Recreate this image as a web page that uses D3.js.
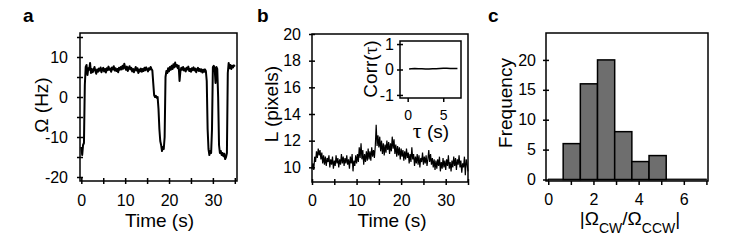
<!DOCTYPE html>
<html><head><meta charset="utf-8">
<script src="https://cdn.jsdelivr.net/npm/d3@7"></script>
<style>body{margin:0;background:#fff}svg{display:block}text{font-family:Arial,"Liberation Sans",sans-serif;fill:#000}</style>
</head><body><svg id="c" width="749" height="247"></svg>
<script>
// Panel a: rotation speed Omega (Hz), sampled every 0.2 s from t = 0
const omegaStart = 0, omegaStep = 0.2;
const omegaValues = [
-12.5,-14.5,-12,-11.5,3,7.5,8,5.5,7.2,6.8,8.5,6,7,6.2,6.8,7.5,6.5,5.8,6.9,6.3,
7.1,6.6,7.4,6.2,6.9,7.3,6.4,7.0,6.1,7.2,6.7,7.6,6.8,7.1,6.3,7.4,6.9,7.7,6.6,7.2,
6.5,7.0,6.2,7.3,6.8,7.5,6.9,7.8,7.1,8.3,7.4,6.8,7.6,6.5,7.2,7.7,6.9,7.3,6.4,7.0,
6.2,6.8,7.5,6.6,7.2,6.0,6.9,6.4,7.1,6.3,7.0,6.5,7.3,6.7,7.4,6.9,6.4,7.2,6.8,7.5,
7.0,6.6,3.5,0.5,0,0.3,-0.2,0,-3,-8,-11,-12,-13.5,-12.5,-13,-10,5,6.5,6,7.2,
6.4,7.5,6.8,7.8,7.0,8.2,7.4,8.6,7.6,8.0,7.2,7.8,4.0,6.5,7.3,6.8,7.5,6.6,7.1,6.4,
7.3,6.9,7.6,6.5,7.0,6.3,7.2,6.7,7.4,6.6,7.1,6.2,6.9,7.3,6.5,7.0,6.4,6.9,6.1,6.8,
6.3,6.9,6.5,4,-8,-13,-14.5,-13.5,-14,-8,7.5,7.8,7.2,3.5,7.5,7.0,0,-12,-14,-13.5,
-14.5,-14,-14.8,-14.2,-15.5,-15,-14,6,8.5,7.2,8.0,7.0,7.8,7.4,7.9,7.6
];
const omegaTicks = [-20,-10,0,10];
const omegaMinorTicks = [-15,-5,5,15];
const timeTicks = [0,10,20,30];
const timeMinorTicks = [5,15,25,35];

// Panel b: length L (pixels), sampled every 0.2 s from t = 0
const lenStart = 0, lenStep = 0.2;
const lenValues = [
9.9,10.3,9.8,10.8,10.4,11.2,10.7,11.4,10.9,11.3,10.6,11.1,10.3,10.9,10.2,10.8,10.1,10.7,10.4,10.9,
10.0,10.6,10.2,10.8,9.9,10.5,10.1,10.9,10.3,10.7,10.0,10.6,10.2,11.0,10.3,10.8,10.1,10.7,10.3,10.9,
10.2,10.6,9.9,10.8,10.3,11.0,9.7,10.5,10.1,10.9,10.3,11.0,10.4,11.5,10.7,11.8,10.6,11.3,10.2,11.0,
10.4,11.2,10.5,11.4,10.6,11.2,10.5,11.5,10.8,11.3,10.7,11.6,13.2,11.6,12.4,11.5,12.3,11.2,12.0,11.0,
11.8,10.9,11.7,11.1,12.0,11.3,11.9,11.0,11.8,11.2,12.3,11.4,12.1,11.0,11.7,10.8,11.6,10.9,11.5,10.6,
11.4,10.8,11.3,10.5,11.2,10.6,11.4,10.7,11.1,10.3,11.0,10.4,11.5,10.6,11.0,10.1,10.8,10.3,11.0,10.2,
10.9,10.0,10.7,10.4,11.1,10.2,10.8,10.3,10.9,10.1,10.6,11.3,10.4,11.0,10.2,10.7,10.0,10.6,9.8,10.5,
9.9,10.6,10.1,10.8,9.7,10.4,9.9,10.7,10.0,10.5,9.8,10.6,10.1,10.9,9.9,10.4,9.7,10.5,10.0,10.8,
10.1,10.7,9.8,10.6,10.2,10.9,10.0,10.5,9.6,10.3,10.0,10.8,9.4,10.6,10.2,9.7
];
const lenTicks = [10,12,14,16,18,20];

// Inset: autocorrelation
const tau = [0.2,0.5,1,1.5,2,2.5,3,3.5,4,4.5,5,5.5,6,6.5,7];
const corr = [0.02,0.03,0.04,0.03,0.03,0.02,0.02,0.03,0.03,0.04,0.05,0.05,0.04,0.04,0.04];
const corrTicks = [-1,0,1];
const tauTicks = [0,5];

// Panel c: histogram of |Omega_CW / Omega_CCW|
const binEdges = [0.66,1.42,2.18,2.94,3.70,4.46,5.22];
const binCounts = [6,16,20,8,3,4];
const freqTicks = [0,5,10,15,20];
const ratioTicks = [0,2,4,6];
const ratioMinorTicks = [1,3,5,7];

const svg = d3.select("#c");
const FS = 16, TFS = 19;

function frame(x0,x1,y0,y1,sw){
  svg.append("rect").attr("x",x0).attr("y",y0).attr("width",x1-x0).attr("height",y1-y0)
    .attr("fill","none").attr("stroke","#000").attr("stroke-width",sw||1.5);
}
function yAxis(scale, x, ticks, minor, pad, fs){
  const g = svg.append("g").attr("transform",`translate(${x},0)`);
  g.call(d3.axisLeft(scale).tickValues(ticks).tickSize(3).tickPadding(pad).tickFormat(d=>d));
  if(minor){
    const m = svg.append("g").attr("transform",`translate(${x},0)`);
    m.call(d3.axisLeft(scale).tickValues(minor).tickSize(3).tickFormat(""));
    m.select(".domain").remove();
    m.selectAll("line").attr("x2",-3).attr("x1",3).attr("stroke-width",1.5);
  }
  g.select(".domain").remove();
  g.selectAll("line").attr("x2",-3).attr("x1",3).attr("stroke-width",1.5);
  g.selectAll("text").attr("font-size",fs||FS).attr("font-family","Arial, 'Liberation Sans', sans-serif");
  return g;
}
function xAxis(scale, y, ticks, minor, pad, fs, cross){
  const g = svg.append("g").attr("transform",`translate(0,${y})`);
  g.call(d3.axisBottom(scale).tickValues(ticks).tickSize(cross?3:4).tickPadding(pad).tickFormat(d=>d));
  g.select(".domain").remove();
  g.selectAll("line").attr("y1",cross?-3:0).attr("stroke-width",1.5);
  if(minor){
    const m = svg.append("g").attr("transform",`translate(0,${y})`);
    m.call(d3.axisBottom(scale).tickValues(minor).tickSize(cross?3:4).tickFormat(""));
    m.select(".domain").remove();
    m.selectAll("line").attr("y1",cross?-3:0).attr("stroke-width",1.5);
  }
  g.selectAll("text").attr("font-size",fs||FS).attr("font-family","Arial, 'Liberation Sans', sans-serif");
  return g;
}
function panelLabel(t,x,y){
  svg.append("text").attr("x",x).attr("y",y).attr("font-size",19).attr("font-weight","bold").text(t);
}

// ---------- Panel a ----------
{
  const x = d3.scaleLinear().domain([-0.3,35.5]).range([80,237]);
  const y = d3.scaleLinear().domain([-21,16]).range([181,33]);
  const pts = omegaValues.map((v,i)=>[omegaStart+i*omegaStep, v]);
  svg.append("path").datum(pts).attr("fill","none").attr("stroke","#000").attr("stroke-width",2)
    .attr("stroke-linejoin","round")
    .attr("d", d3.line().x(d=>x(d[0])).y(d=>y(d[1])));
  frame(80,237,33,181);
  yAxis(y,80,omegaTicks,omegaMinorTicks,9);
  xAxis(x,181,timeTicks,timeMinorTicks,11,FS,true);
  svg.append("text").attr("x",159.5).attr("y",227).attr("text-anchor","middle").attr("font-size",TFS).text("Time (s)");
  svg.append("text").attr("transform","translate(48,105) rotate(-90)").attr("text-anchor","middle")
    .attr("font-size",TFS).text("Ω (Hz)");
  panelLabel("a",23,22);
}

// ---------- Panel b ----------
{
  const x = d3.scaleLinear().domain([0,35]).range([312,468]);
  const y = d3.scaleLinear().domain([8.9,20]).range([182,34]);
  const pts = lenValues.map((v,i)=>[lenStart+i*lenStep, v]);
  svg.append("path").datum(pts).attr("fill","none").attr("stroke","#000").attr("stroke-width",1.2)
    .attr("d", d3.line().x(d=>x(d[0])).y(d=>y(d[1])));
  frame(312,468,34,182);
  yAxis(y,312,lenTicks,null,8);
  xAxis(x,182,timeTicks,timeMinorTicks,10,FS,true);
  svg.append("text").attr("x",392).attr("y",227).attr("text-anchor","middle").attr("font-size",TFS).text("Time (s)");
  svg.append("text").attr("transform","translate(278,104) rotate(-90)").attr("text-anchor","middle")
    .attr("font-size",TFS).text("L (pixels)");
  panelLabel("b",257,22);

  // inset
  const ix = d3.scaleLinear().domain([-1.08,7.5]).range([400,461]);
  const iy = d3.scaleLinear().domain([-1.12,1.12]).range([98,41]);
  svg.append("rect").attr("x",400).attr("y",41).attr("width",61).attr("height",57).attr("fill","#fff");
  svg.append("path").datum(tau.map((t,i)=>[t,corr[i]])).attr("fill","none").attr("stroke","#000").attr("stroke-width",1.5)
    .attr("d", d3.line().x(d=>ix(d[0])).y(d=>iy(d[1])));
  frame(400,461,41,98);
  yAxis(iy,400,corrTicks,null,3);
  xAxis(ix,98,tauTicks,null,8,14,false);
  svg.append("text").attr("transform","translate(377,69) rotate(-90)").attr("text-anchor","middle")
    .attr("font-size",TFS).html('Corr(<tspan font-family="Liberation Serif, Times New Roman, serif">τ</tspan>)');
  svg.append("text").attr("x",431).attr("y",138).attr("text-anchor","middle")
    .attr("font-size",TFS).html('<tspan font-family="Liberation Serif, Times New Roman, serif" font-size="22">τ</tspan> (s)');
}

// ---------- Panel c ----------
{
  const x = d3.scaleLinear().domain([-0.1,7.07]).range([546,708]);
  const y = d3.scaleLinear().domain([-0.25,24.5]).range([181,33]);
  svg.append("rect").attr("x",x(0)).attr("y",y(0)-0.5).attr("width",x(7)-x(0)).attr("height",1)
    .attr("fill","#6e6e6e").attr("stroke","#000").attr("stroke-width",0.8);
  svg.selectAll(".bar").data(binCounts).enter().append("rect")
    .attr("x",(d,i)=>x(binEdges[i])).attr("width",(d,i)=>x(binEdges[i+1])-x(binEdges[i]))
    .attr("y",d=>y(d)).attr("height",d=>y(0)-y(d))
    .attr("fill","#6e6e6e").attr("stroke","#000").attr("stroke-width",1.5);
  frame(546,708,33,181);
  yAxis(y,546,freqTicks,null,7);
  xAxis(x,181,ratioTicks,ratioMinorTicks,9,FS,false);
  svg.append("text").attr("x",630).attr("y",225).attr("text-anchor","middle").attr("font-size",TFS)
    .html('|Ω<tspan baseline-shift="sub" font-size="14">CW</tspan>/Ω<tspan baseline-shift="sub" font-size="14">CCW</tspan>|');
  svg.append("text").attr("transform","translate(512,103) rotate(-90)").attr("text-anchor","middle")
    .attr("font-size",TFS).text("Frequency");
  panelLabel("c",488,22);
}
</script></body></html>
